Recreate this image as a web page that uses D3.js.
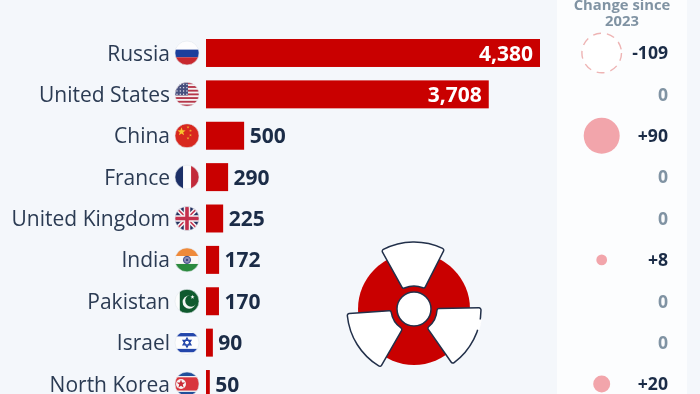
<!DOCTYPE html>
<html><head><meta charset="utf-8">
<script src="https://cdn.jsdelivr.net/npm/d3@7"></script>
<style>html,body{margin:0;padding:0;background:#f4f7fb;overflow:hidden}svg{display:block;font-family:"Open Sans",sans-serif;filter:blur(0.35px)}</style>
</head><body><svg id="c" width="700" height="394"></svg>
<script>
const countries = ["Russia","United States","China","France","United Kingdom","India","Pakistan","Israel","North Korea"];
const warheads = [4380,3708,500,290,225,172,170,90,50];
const change = [-109,0,90,0,0,8,0,0,20];
const flagIds = ["ru","us","cn","fr","uk","in","pk","il","kp"];
const panelTitle = ["Change since","2023"];
const red="#c90000", ink="#1b2c47", labelInk="#2b3b53", grey="#8093a3", pink="#f2a5ab";

const svg=d3.select("#c");
const x=d3.scaleLinear().domain([0,4380]).range([206,540]);
const y=d3.scaleBand().domain(countries).range([39,398]).paddingInner(0.324).paddingOuter(0);
const r=d3.scaleSqrt().domain([0,109]).range([0,19.8]);
const fmt=d3.format(",");
const cy=d=>y(d)+y.bandwidth()/2;

// change panel
svg.append("rect").attr("x",557).attr("y",0).attr("width",130).attr("height",394).attr("fill","#fcfdfe");
svg.append("g").selectAll("text").data(panelTitle).join("text")
  .attr("x",622).attr("y",(d,i)=>10+i*16).attr("text-anchor","middle")
  .attr("font-size",14.8).attr("font-weight",700).attr("fill",grey).text(d=>d);

// bars
svg.append("g").selectAll("rect").data(countries).join("rect")
  .attr("x",x(0)).attr("y",d=>y(d)).attr("height",y.bandwidth())
  .attr("width",(d,i)=>x(warheads[i])-x(0)).attr("fill",red);

// country labels
svg.append("g").selectAll("text").data(countries).join("text")
  .attr("x",170).attr("y",cy).attr("dy","0.36em").attr("text-anchor","end")
  .attr("font-size",21).attr("fill",labelInk).text(d=>d);

// value labels
svg.append("g").selectAll("text").data(countries).join("text")
  .attr("y",cy).attr("dy","0.36em").attr("font-size",21).attr("font-weight",700)
  .attr("x",(d,i)=>warheads[i]>1000?x(warheads[i])-7:x(warheads[i])+5.5)
  .attr("text-anchor",(d,i)=>warheads[i]>1000?"end":"start")
  .attr("fill",(d,i)=>warheads[i]>1000?"#fff":ink)
  .text((d,i)=>fmt(warheads[i]));

// change bubbles
svg.append("g").selectAll("circle").data(countries).join("circle")
  .attr("cx",601.7).attr("cy",cy).attr("r",(d,i)=>r(Math.abs(change[i])))
  .attr("fill",(d,i)=>change[i]>0?pink:"#fff")
  .attr("stroke",(d,i)=>change[i]<0?"#eeb4b4":"none")
  .attr("stroke-width",1.4).attr("stroke-dasharray",(d,i)=>change[i]<0?"8 6":null);
svg.append("g").selectAll("text").data(countries).join("text")
  .attr("x",668).attr("y",cy).attr("dy","0.36em").attr("text-anchor","end")
  .attr("font-size",17.6).attr("font-weight",700)
  .attr("fill",(d,i)=>change[i]===0?grey:ink)
  .text((d,i)=>change[i]>0?"+"+change[i]:String(change[i]));

// flags
const R=12;
function star(cx,cy,ro,rot=0){
  const pts=[];
  for(let k=0;k<10;k++){const a=rot-Math.PI/2+k*Math.PI/5,q=k%2?ro*0.4:ro;pts.push([cx+q*Math.cos(a),cy+q*Math.sin(a)]);}
  return "M"+pts.join("L")+"Z";
}
const hBands=(g,bands)=>{bands.forEach(b=>g.append("rect").attr("x",-R).attr("width",2*R).attr("y",-R+b[0]*2*R).attr("height",(b[1]-b[0])*2*R).attr("fill",b[2]));};
const vBands=(g,bands)=>{bands.forEach(b=>g.append("rect").attr("y",-R).attr("height",2*R).attr("x",-R+b[0]*2*R).attr("width",(b[1]-b[0])*2*R).attr("fill",b[2]));};
const draw={
 ru:g=>hBands(g,[[0,.36,"#fdfdfe"],[.36,.68,"#1c3f9c"],[.68,1,"#c8282e"]]),
 us:g=>{
  hBands(g,[[0,1,"#f5f3f3"]]);
  d3.range(7).forEach(k=>g.append("rect").attr("x",-R).attr("width",2*R).attr("y",-R+k*24/6.5).attr("height",1.85).attr("fill","#b5364a"));
  g.append("rect").attr("x",-R).attr("y",-R).attr("width",13).attr("height",13).attr("fill","#48507e");
  d3.range(4).forEach(a=>d3.range(4).forEach(b=>g.append("circle").attr("cx",-10+a*3.3).attr("cy",-10+b*3.3).attr("r",.7).attr("fill","#e8e8f0")));
 },
 cn:g=>{
  hBands(g,[[0,1,"#d8281f"]]);
  g.append("path").attr("d",star(-5.5,-4,4.4)).attr("fill","#f7c52e");
  [[1,-8.5],[3.5,-5],[3.5,-.5],[1,2.5]].forEach(p=>g.append("path").attr("d",star(p[0],p[1],1.5)).attr("fill","#f0b030"));
 },
 fr:g=>vBands(g,[[0,.34,"#1c2f66"],[.34,.67,"#fbfbfb"],[.67,1,"#c22a3a"]]),
 uk:g=>{
  hBands(g,[[0,1,"#23305f"]]);
  g.append("path").attr("d","M-12,-12L12,12M12,-12L-12,12").attr("stroke","#f4f0f2").attr("stroke-width",4.5);
  g.append("path").attr("d","M-12,-12L12,12M12,-12L-12,12").attr("stroke","#c4304c").attr("stroke-width",1.5);
  g.append("path").attr("d","M0,-12V12M-12,0H12").attr("stroke","#f4f0f2").attr("stroke-width",6.5);
  g.append("path").attr("d","M0,-12V12M-12,0H12").attr("stroke","#c4304c").attr("stroke-width",3.6);
 },
 in:g=>{
  hBands(g,[[0,.34,"#ef8a3a"],[.34,.67,"#f9f8f6"],[.67,1,"#2b8a3e"]]);
  g.append("circle").attr("r",3.6).attr("fill","#8f8fb8").attr("stroke","#3d4a86").attr("stroke-width",1);
  g.append("circle").attr("r",1.2).attr("fill","#3d4a86");
 },
 pk:g=>{
  vBands(g,[[0,.2,"#fcfdfd"],[.2,1,"#0f5a2e"]]);
  g.append("circle").attr("cx",2.2).attr("cy",.8).attr("r",6.6).attr("fill","#f4f7f4");
  g.append("circle").attr("cx",4.2).attr("cy",-.6).attr("r",6).attr("fill","#0f5a2e");
  g.append("path").attr("d",star(5.5,-4.2,2.2)).attr("fill","#f4f7f4");
 },
 il:g=>{
  hBands(g,[[0,1,"#fdfdfe"],[.1,.24,"#2346ab"],[.76,.9,"#2346ab"]]);
  g.append("path").attr("d","M0,-4.6L4,2.3H-4ZM0,4.6L4,-2.3H-4Z").attr("fill","none").attr("stroke","#2346ab").attr("stroke-width",1.2);
 },
 kp:g=>{
  hBands(g,[[0,.17,"#214f9a"],[.17,.22,"#f0f0f0"],[.22,.78,"#d8353d"],[.78,.83,"#f0f0f0"],[.83,1,"#214f9a"]]);
  g.append("circle").attr("cx",-6).attr("r",5).attr("fill","#f6f4f4");
  g.append("path").attr("d",star(-6,0,4.6)).attr("fill","#c92a36");
 }
};
const defs=svg.append("defs");
defs.append("clipPath").attr("id","flagClip").append("circle").attr("r",R);
countries.forEach((c,i)=>{
  const g=svg.append("g").attr("transform",`translate(187,${cy(c)})`);
  const inner=g.append("g").attr("clip-path","url(#flagClip)");
  draw[flagIds[i]](inner);
  g.append("circle").attr("r",R).attr("fill","none").attr("stroke","#e3e7ec").attr("stroke-width",0.6);
});

// radiation emblem
const em=svg.append("g").attr("transform","translate(414,309)");
em.append("circle").attr("r",56).attr("fill",red);
const blade=d3.arc().innerRadius(23).outerRadius(67).cornerRadius(2);
const rad=a=>a*Math.PI/180;
[-1,117,238].forEach(a=>{
  em.append("path").attr("d",blade({startAngle:rad(a-28),endAngle:rad(a+28)}))
    .attr("fill","#fff").attr("stroke","#22304a").attr("stroke-width",1.5).attr("stroke-linejoin","round");
});
em.append("path").attr("d",d3.arc().innerRadius(65.5).outerRadius(68.5)({startAngle:rad(99),endAngle:rad(108)})).attr("fill","#fff");
em.append("circle").attr("r",21.5).attr("fill",red);
em.append("circle").attr("r",17).attr("fill","#fff").attr("stroke","#22304a").attr("stroke-width",1.5);
</script></body></html>
